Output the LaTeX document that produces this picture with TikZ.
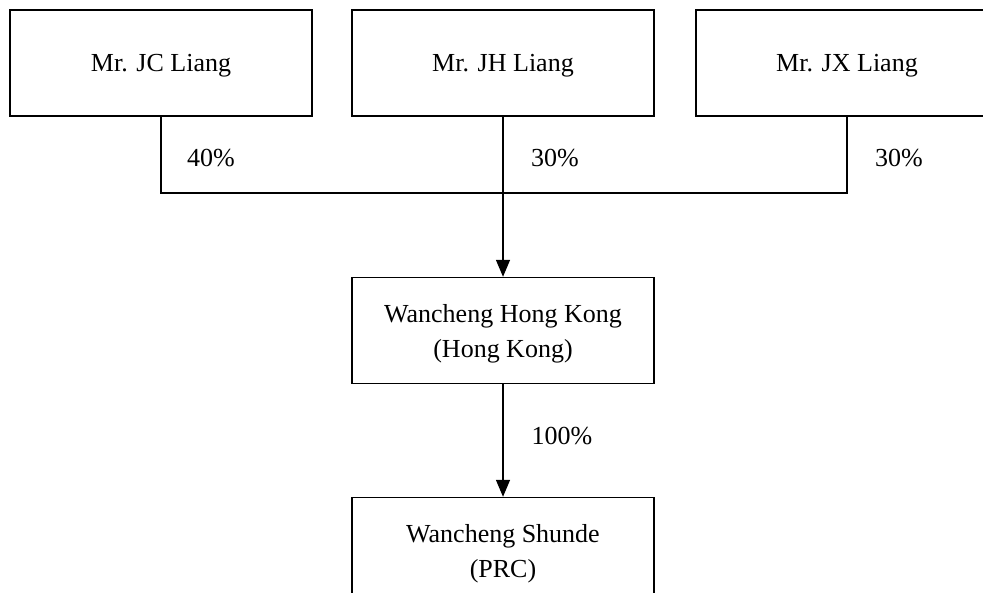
\documentclass[tikz,border=0pt]{standalone}
\usepackage{fontspec}
\setmainfont{Liberation Serif}
\usetikzlibrary{arrows.meta,positioning}

\begin{document}
\begin{tikzpicture}[x=0.5pt, y=-0.5pt, line width=0.7pt,
  >={Triangle[width=7pt,length=8.5pt]},
  box/.style={draw, rectangle, minimum width=151pt, minimum height=53pt,
    inner sep=0pt, text depth=0pt, align=center,
    font=\fontsize{13}{17.5}\selectfont},
  pct/.style={font=\fontsize{13}{17.5}\selectfont}]
%%
  \useasboundingbox (0,0) rectangle (983,593);
  \clip (0,0) rectangle (983,593);
  \node (jc) at (161,63) [box] {Mr. JC Liang};
  \node (jh) at (503,63) [box] {Mr. JH Liang};
  \node (jx) at (847,63) [box] {Mr. JX Liang};
  \node (hk) at (503,330.5) [box] {Wancheng Hong Kong\\(Hong Kong)};
  \node (sd) at (503,550.5) [box] {Wancheng Shunde\\(PRC)};
  \coordinate (bar) at (503,193);
  \draw (jc.south) |- (bar) -| (jx.south);
  \draw [->] (jh.south) -- (hk.north);
  \draw [->] (hk.south) -- (sd.north);
  \node (p1) at (211,158) [pct] {40\%};
  \node (p2) at (555,158) [pct] {30\%};
  \node (p3) at (899,158) [pct] {30\%};
  \node (p4) at (562,436) [pct] {100\%};
%
\end{tikzpicture}
\end{document}
